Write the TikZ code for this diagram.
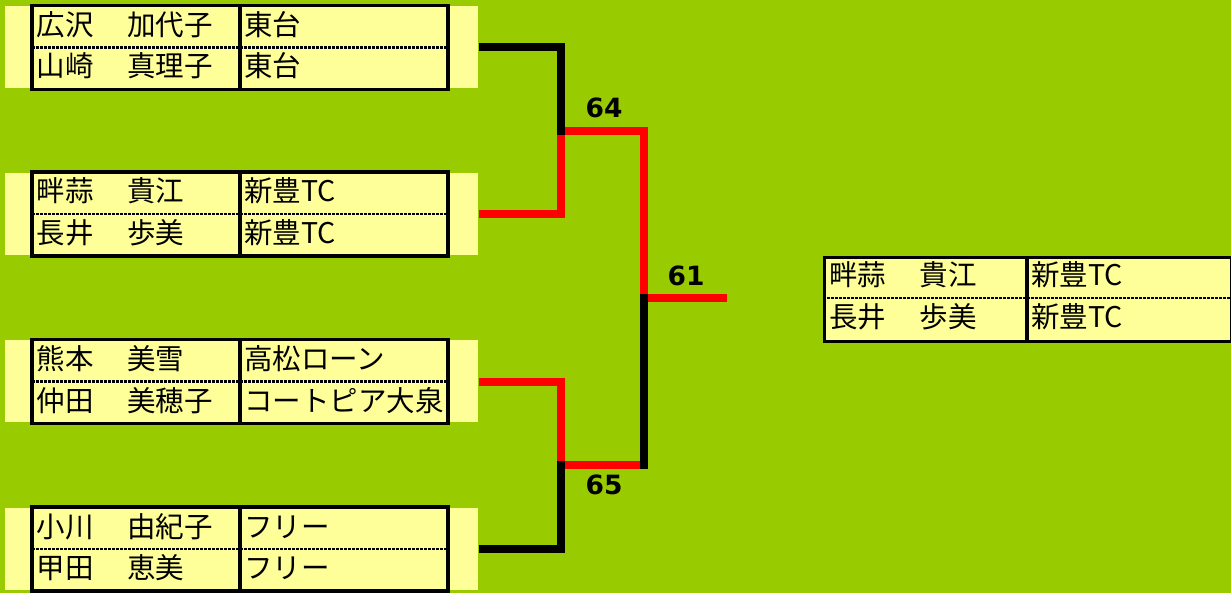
\documentclass[tikz,border=0pt]{standalone}
\usepackage{fontspec}
\usetikzlibrary{calc}
\newfontfamily\jp{Noto Sans CJK JP}
\newfontfamily\numf{DejaVu Sans}
\definecolor{bggreen}{HTML}{99CC00}
\definecolor{cellyel}{HTML}{FFFF99}
\definecolor{linered}{HTML}{FF0000}
\newcommand{\gapsp}{　\kern5pt}
\tikzset{
  ext/.style={fill=cellyel, draw=none},
  cell/.style={fill=cellyel, draw=black, line width=3.3pt},
  sep/.style={draw=black, line width=3.3pt},
  dotsep/.style={draw=black, line width=2.6pt, dash pattern=on 2.7pt off 1.3pt},
  txt/.style={anchor=base west, inner sep=0pt, font=\jp\fontsize{28.5}{30}\selectfont},
  score/.style={inner sep=0pt, font=\numf\bfseries\fontsize{26.5}{28}\selectfont},
  wline/.style={draw=linered, line width=8pt, line cap=butt, line join=miter},
  lline/.style={draw=black, line width=8pt, line cap=butt, line join=miter}
}
\begin{document}
\begin{tikzpicture}[x=1pt,y=-1pt]
\fill[bggreen] (0,0) rectangle (1231,593);
\useasboundingbox (0,0) rectangle (1231,593);

% left entries: top y values
\foreach \i/\t/\na/\nb/\ta/\tb in {
  1/5.5/広沢\gapsp 加代子/山崎\gapsp 真理子/東台/東台,
  2/172/畔蒜\gapsp 貴江/長井\gapsp 歩美/新豊TC/新豊TC,
  3/339.5/熊本\gapsp 美雪/仲田\gapsp 美穂子/高松ローン/コートピア大泉,
  4/507/小川\gapsp 由紀子/甲田\gapsp 恵美/フリー/フリー}{
  \node[ext, inner sep=0pt, minimum width=473pt, minimum height=82pt, anchor=north west] (y\i) at (5,\t+0.5) {};
  \draw[cell] (32,\t) rectangle (448,\t+84);
  \draw[dotsep] (32,\t+42) -- (448,\t+42);
  \draw[sep] (240,\t) -- (240,\t+84);
  \node[txt] (na\i) at (36.5,\t+30) {\na};
  \node[txt] (nb\i) at (36.5,\t+71.5) {\nb};
  \node[txt] (ta\i) at (244,\t+30) {\ta};
  \node[txt] (tb\i) at (244,\t+71.5) {\tb};
}

% winner box
\node[cell, inner sep=0pt, minimum width=407pt, minimum height=84pt, anchor=north west] (win) at (823,256) {};
\draw[dotsep] (823,298) -- (1230,298);
\draw[sep] (1027,256) -- (1027,340);
\node[txt] (wna) at (829,286) {畔蒜\gapsp 貴江};
\node[txt] (wnb) at (829,327.5) {長井\gapsp 歩美};
\node[txt] (wta) at (1031,286) {新豊TC};
\node[txt] (wtb) at (1031,327.5) {新豊TC};

% junction coordinates
\coordinate (a1) at (479,47.5);
\coordinate (a2) at (479,214);
\coordinate (a3) at (479,381.5);
\coordinate (a4) at (479,549);
\coordinate (c1) at (561,47.5);
\coordinate (c2) at (561,214);
\coordinate (c3) at (561,381.5);
\coordinate (c4) at (561,549);
\coordinate (s64) at (561,131);
\coordinate (s65) at (561,465);
\coordinate (f64) at (644,131);
\coordinate (f65) at (644,465);
\coordinate (f61) at (644,298);
\coordinate (out) at (727,298);

% winners' path (red)
\draw[wline] (a2) -- (c2) -- (s64) -- (f64) -- (f61) -- (out);
\draw[wline] (a3) -- (c3) -- (s65) -- (f65);
% losers' path (black)
\draw[lline] (a1) -- (c1) -- ($(s64)+(0,4)$);
\draw[lline] (a4) -- (c4) -- ($(s65)+(0,-4)$);
\draw[lline] ($(f65)+(0,4)$) -- ($(f61)+(0,-4)$);

% scores
\node[score] (l64) at (604,108) {64};
\node[score] (l61) at (686,275.5) {61};
\node[score] (l65) at (604,484.5) {65};
\end{tikzpicture}
\end{document}
